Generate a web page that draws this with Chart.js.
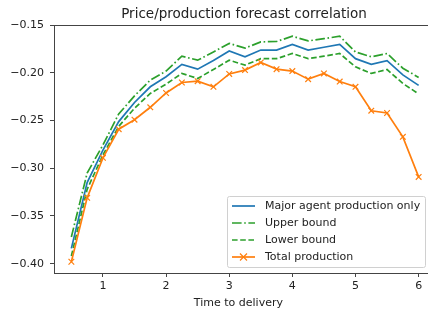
<!DOCTYPE html>
<html>
<head>
<meta charset="utf-8">
<script src="https://cdn.jsdelivr.net/npm/chart.js@4/dist/chart.umd.min.js"></script>
<style>
  html, body { margin: 0; padding: 0; background: #fff; }
  #wrap { width: 428px; height: 314px; }
</style>
</head>
<body>
<div id="wrap"><canvas id="chart" width="428" height="314"></canvas></div>
<script>
const times = [0.5, 0.75, 1.0, 1.25, 1.5, 1.75, 2.0, 2.25, 2.5, 2.75, 3.0, 3.25,
               3.5, 3.75, 4.0, 4.25, 4.5, 4.75, 5.0, 5.25, 5.5, 5.75, 6.0];
const majorOnly = [-0.384, -0.315, -0.281, -0.251, -0.231, -0.2145, -0.204, -0.191, -0.196, -0.187, -0.177, -0.183,
                   -0.176, -0.176, -0.170, -0.176, -0.173, -0.170, -0.185, -0.191, -0.187, -0.202, -0.213];
const upperBound = [-0.372, -0.305, -0.2755, -0.243, -0.224, -0.2075, -0.198, -0.1824, -0.1866, -0.178, -0.169, -0.174,
                    -0.1674, -0.167, -0.1615, -0.1664, -0.164, -0.1615, -0.178, -0.183, -0.1796, -0.195, -0.2047];
const lowerBound = [-0.392, -0.322, -0.286, -0.256, -0.237, -0.2215, -0.2117, -0.2005, -0.2058, -0.1964, -0.1866, -0.1918,
                    -0.185, -0.185, -0.1796, -0.185, -0.1824, -0.1796, -0.1936, -0.2005, -0.1964, -0.211, -0.222];
const totalProduction = [-0.398, -0.331, -0.289, -0.259, -0.249, -0.236, -0.221, -0.210, -0.2086, -0.2145, -0.201, -0.197,
                         -0.189, -0.196, -0.198, -0.2065, -0.2005, -0.209, -0.2145, -0.2396, -0.242, -0.267, -0.309];
const xTicks = [1, 2, 3, 4, 5, 6];
const yTicks = [-0.40, -0.35, -0.30, -0.25, -0.20, -0.15];

const FONT = "'DejaVu Sans', sans-serif";
const SPINE = "#444";
const toPoints = (ys) => times.map((t, i) => ({ x: t, y: ys[i] }));

const datasets = [
    {
        label: "Major agent production only",
        data: toPoints(majorOnly),
        borderColor: "#1f77b4",
        borderWidth: 1.7,
        pointRadius: 0,
        order: 4,
    },
    {
        label: "Upper bound",
        data: toPoints(upperBound),
        borderColor: "#2ca02c",
        borderWidth: 1.7,
        borderDash: [9.6, 2.6, 1.6, 2.6],
        pointRadius: 0,
        order: 3,
    },
    {
        label: "Lower bound",
        data: toPoints(lowerBound),
        borderColor: "#2ca02c",
        borderWidth: 1.7,
        borderDash: [5.6, 2.6],
        pointRadius: 0,
        order: 2,
    },
    {
        label: "Total production",
        data: toPoints(totalProduction),
        borderColor: "#ff7f0e",
        backgroundColor: "#ff7f0e",
        pointBorderColor: "#ff7f0e",
        borderWidth: 1.7,
        pointStyle: "crossRot",
        pointRadius: 4,
        pointBorderWidth: 1.2,
        order: 1,
    },
];

// title, top spine, spine extension past the clipped right edge, legend box
const decorations = {
    id: "decorations",
    afterDraw(chart) {
        const { ctx, chartArea, width } = chart;
        ctx.save();
        ctx.strokeStyle = SPINE;
        ctx.lineWidth = 1;
        ctx.beginPath();
        ctx.moveTo(chartArea.left, chartArea.top + 0.5);
        ctx.lineTo(width, chartArea.top + 0.5);
        ctx.moveTo(chartArea.right - 1, chartArea.bottom + 0.5);
        ctx.lineTo(width, chartArea.bottom + 0.5);
        ctx.stroke();

        ctx.fillStyle = "#222";
        ctx.font = "13.5px " + FONT;
        ctx.textAlign = "center";
        ctx.textBaseline = "alphabetic";
        ctx.fillText("Price/production forecast correlation", 244, 18);

        // legend
        const lx = 227.5, ly = 196.5, lw = 198, lh = 71;
        ctx.fillStyle = "rgba(255,255,255,0.8)";
        ctx.strokeStyle = "#d0d0d0";
        ctx.lineWidth = 1;
        ctx.beginPath();
        ctx.roundRect(lx, ly, lw, lh, 2);
        ctx.fill();
        ctx.stroke();

        const rowY = [206, 223, 240, 257];
        ctx.font = "11px " + FONT;
        ctx.textAlign = "left";
        ctx.textBaseline = "middle";
        datasets.forEach((ds, i) => {
            const y = rowY[i];
            ctx.strokeStyle = ds.borderColor;
            ctx.lineWidth = ds.borderWidth;
            ctx.setLineDash(ds.borderDash || []);
            ctx.beginPath();
            ctx.moveTo(232, y);
            ctx.lineTo(255, y);
            ctx.stroke();
            ctx.setLineDash([]);
            if (ds.pointStyle === "crossRot") {
                const r = 3.5;
                ctx.lineWidth = 1.2;
                ctx.beginPath();
                ctx.moveTo(243.5 - r, y - r); ctx.lineTo(243.5 + r, y + r);
                ctx.moveTo(243.5 - r, y + r); ctx.lineTo(243.5 + r, y - r);
                ctx.stroke();
            }
            ctx.fillStyle = "#222";
            ctx.fillText(ds.label, 265, y + 0.5);
        });
        ctx.restore();
    },
};

new Chart(document.getElementById("chart"), {
    type: "line",
    data: { datasets },
    options: {
        responsive: false,
        animation: false,
        layout: { padding: { top: 25, right: 0, left: 0, bottom: 0 } },
        plugins: {
            legend: { display: false },
            title: { display: false },
            tooltip: { enabled: false },
        },
        scales: {
            x: {
                type: "linear",
                min: 0.225,
                max: 6.066,
                afterBuildTicks: (scale) => { scale.ticks = xTicks.map((v) => ({ value: v })); },
                afterFit: (scale) => { scale.height = 41; },
                border: { display: true, color: SPINE, width: 1 },
                grid: { drawOnChartArea: false, drawTicks: true, tickLength: 4, color: SPINE },
                ticks: { color: "#222", font: { family: FONT, size: 11 }, padding: 3, maxRotation: 0 },
                title: {
                    display: true,
                    text: "Time to delivery",
                    color: "#222",
                    font: { family: FONT, size: 11 },
                    padding: { top: 0, bottom: 4 },
                },
            },
            y: {
                type: "linear",
                min: -0.4098,
                max: -0.1497,
                afterBuildTicks: (scale) => { scale.ticks = yTicks.map((v) => ({ value: v })); },
                afterFit: (scale) => { scale.width = 54; },
                border: { display: true, color: SPINE, width: 1 },
                grid: { drawOnChartArea: false, drawTicks: true, tickLength: 4, color: SPINE },
                ticks: {
                    color: "#222",
                    font: { family: FONT, size: 11 },
                    padding: 6,
                    callback: (v) => (v < 0 ? "\u2212" : "") + Math.abs(v).toFixed(2),
                },
            },
        },
    },
    plugins: [decorations],
});
</script>
</body>
</html>
